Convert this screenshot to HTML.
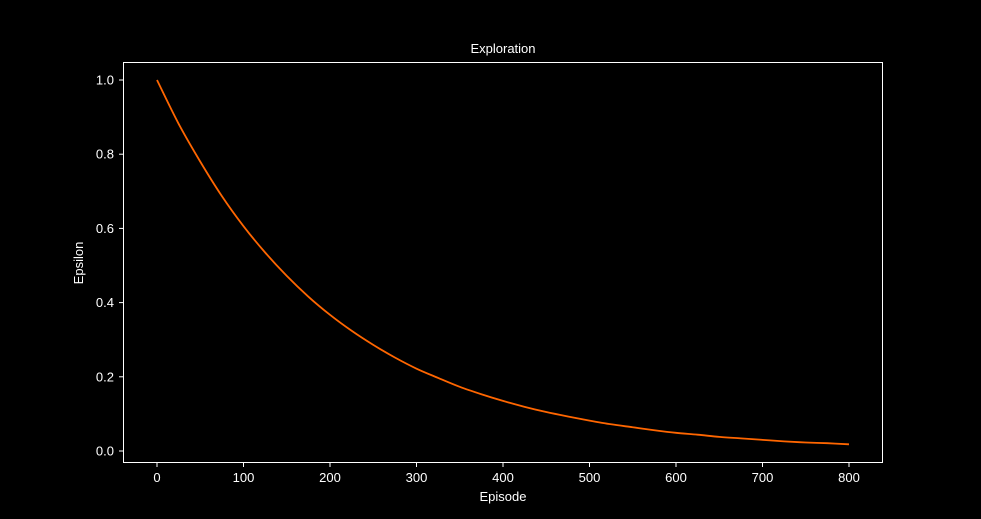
<!DOCTYPE html>
<html><head><meta charset="utf-8"><style>
body{margin:0;background:#000;overflow:hidden;}
svg{display:block;}
svg text{font-family:"Liberation Sans","DejaVu Sans",sans-serif;fill:#fff;}
</style></head><body>
<svg width="981" height="519" xmlns="http://www.w3.org/2000/svg">
<rect width="981" height="519" fill="#000"/>
<text x="503" y="53" font-size="13" text-anchor="middle">Exploration</text>
<rect x="123.5" y="62.5" width="759" height="400" fill="none" stroke="#fff" stroke-width="1"/>
<g id="xt"></g>
<g id="yt"></g>
<text x="503" y="501" font-size="13" text-anchor="middle">Episode</text>
<text transform="translate(83,263) rotate(-90)" font-size="13" text-anchor="middle">Epsilon</text>
<path id="line" fill="none" stroke="#ff6600" stroke-width="1.8"/>
</svg>
<script>
const episodes=[0,25,50,75,100,125,150,175,200,225,250,275,300,325,350,375,400,425,450,475,500,525,550,575,600,625,650,675,700,725,750,775,800];
const epsilon=[1.0,0.882,0.78,0.687,0.606,0.535,0.472,0.416,0.367,0.324,0.286,0.252,0.222,0.197,0.173,0.153,0.135,0.119,0.105,0.093,0.082,0.072,0.064,0.056,0.049,0.044,0.038,0.034,0.030,0.026,0.023,0.021,0.018];
const xTicks=[0,100,200,300,400,500,600,700,800];
const yTicks=[0.0,0.2,0.4,0.6,0.8,1.0];
const xs=v=>157+v*(849-157)/800;
const ys=v=>451-v*(451-80);
const NS="http://www.w3.org/2000/svg";
const xt=document.getElementById('xt'),yt=document.getElementById('yt');
xTicks.forEach(t=>{
 const l=document.createElementNS(NS,'line');
 
 
 l.setAttribute('x1',xs(t));l.setAttribute('x2',xs(t));l.setAttribute('y1',463);l.setAttribute('y2',467);l.setAttribute('stroke','#fff');
 xt.appendChild(l);
 const tx=document.createElementNS(NS,'text');
 
 
 tx.setAttribute('x',xs(t));tx.setAttribute('y',482);tx.setAttribute('font-size','13');tx.setAttribute('text-anchor','middle');
 tx.textContent=t;xt.appendChild(tx);
});
yTicks.forEach(t=>{
 const l=document.createElementNS(NS,'line');
 
 
 l.setAttribute('x1',119);l.setAttribute('x2',123);l.setAttribute('y1',ys(t));l.setAttribute('y2',ys(t));l.setAttribute('stroke','#fff');
 yt.appendChild(l);
 const tx=document.createElementNS(NS,'text');
 
 
 tx.setAttribute('x',114);tx.setAttribute('y',ys(t)+4.5);tx.setAttribute('font-size','13');tx.setAttribute('text-anchor','end');
 tx.textContent=t.toFixed(1);yt.appendChild(tx);
});
const P=episodes.map((e,i)=>[xs(e),ys(epsilon[i])]);
let d='M'+P[0][0].toFixed(2)+' '+P[0][1].toFixed(2);
for(let i=0;i<P.length-1;i++){
 const p0=P[Math.max(i-1,0)],p1=P[i],p2=P[i+1],p3=P[Math.min(i+2,P.length-1)];
 const c1=[p1[0]+(p2[0]-p0[0])/6,p1[1]+(p2[1]-p0[1])/6];
 const c2=[p2[0]-(p3[0]-p1[0])/6,p2[1]-(p3[1]-p1[1])/6];
 d+=' C'+c1[0].toFixed(2)+' '+c1[1].toFixed(2)+' '+c2[0].toFixed(2)+' '+c2[1].toFixed(2)+' '+p2[0].toFixed(2)+' '+p2[1].toFixed(2);
}
document.getElementById('line').setAttribute('d',d);
</script>
</body></html>
